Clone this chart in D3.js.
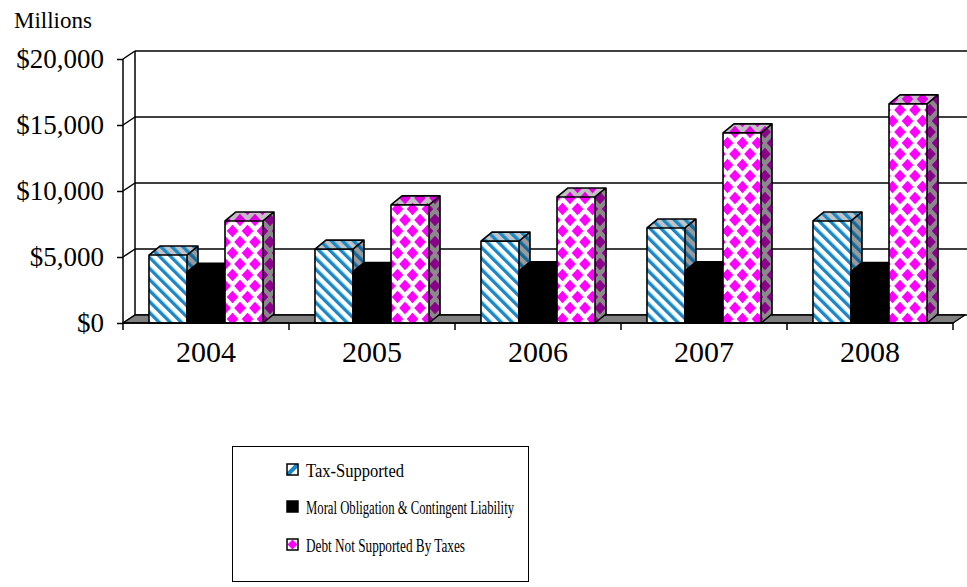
<!DOCTYPE html>
<html>
<head>
<meta charset="utf-8">
<script src="https://cdn.jsdelivr.net/npm/d3@7"></script>
<style>
  html, body { margin: 0; padding: 0; background: #fff; }
  svg text { font-family: "Liberation Serif", "Times New Roman", serif; fill: #000; }
</style>
</head>
<body>
<svg id="chart" width="967" height="587"></svg>
<script>
// ---- data (millions of dollars) ----
const years = ["2004", "2005", "2006", "2007", "2008"];
const seriesNames = ["Tax-Supported", "Moral Obligation & Contingent Liability", "Debt Not Supported By Taxes"];
const taxSupported = [5150, 5600, 6200, 7200, 7730];
const moralObligation = [3850, 3900, 3950, 3950, 3900];
const notSupportedByTaxes = [7730, 8950, 9550, 14400, 16600];
const yTicks = [0, 5000, 10000, 15000, 20000];

const seriesValues = [taxSupported, moralObligation, notSupportedByTaxes];

const svg = d3.select("#chart");

// ---- pattern fills ----
const defs = svg.append("defs");
function stripePattern(id, bg, stripe) {
  const p = defs.append("pattern").attr("id", id)
    .attr("patternUnits", "userSpaceOnUse").attr("width", 7.8).attr("height", 7.8)
    .attr("patternTransform", "rotate(-45)");
  p.append("rect").attr("width", 7.8).attr("height", 7.8).attr("fill", bg);
  p.append("rect").attr("x", 0).attr("width", 3.4).attr("height", 7.8).attr("fill", stripe);
}
function diamondPattern(id, bg, dot) {
  const w = 15, h = 22, rx = 5.8, ry = 6.2;
  const p = defs.append("pattern").attr("id", id)
    .attr("patternUnits", "userSpaceOnUse").attr("width", w).attr("height", h);
  p.append("rect").attr("width", w).attr("height", h).attr("fill", bg);
  const centers = [[w / 2, h / 2], [0, 0], [w, 0], [0, h], [w, h]];
  centers.forEach(([cx, cy]) => {
    p.append("path")
      .attr("d", `M${cx},${cy - ry}L${cx + rx},${cy}L${cx},${cy + ry}L${cx - rx},${cy}Z`)
      .attr("fill", dot);
  });
}
stripePattern("taxFront", "#ffffff", "#1a88c6");
stripePattern("taxTop", "#c4c4c4", "#1a88c6");
stripePattern("taxSide", "#9a9a9a", "#11689a");
diamondPattern("debtFront", "#ffffff", "#ff00ff");
diamondPattern("debtTop", "#c0c0c0", "#e000e0");
diamondPattern("debtSide", "#8a8a8a", "#8a008a");

const faceFills = [
  { front: "url(#taxFront)", top: "url(#taxTop)", side: "url(#taxSide)" },
  { front: "#000", top: "#000", side: "#000" },
  { front: "url(#debtFront)", top: "url(#debtTop)", side: "url(#debtSide)" }
];

// ---- scales ----
const plotLeft = 123, plotRight = 953, plotTop = 59, plotBottom = 323;
const wallDx = 12, wallDy = -8;   // depth of the back wall
const barDx = 11, barDy = -9;     // depth of each column

const x0 = d3.scaleBand().domain(years).range([plotLeft, plotRight]).paddingInner(0).paddingOuter(0);
const groupW = x0.bandwidth() * 0.687;
const x1 = d3.scaleBand().domain(d3.range(seriesNames.length)).range([0, groupW]).padding(0);
const y = d3.scaleLinear().domain([0, 20000]).range([plotBottom, plotTop]);

const g = svg.append("g");

// ---- back wall: gridlines & border ----
g.selectAll("line.grid").data(yTicks).join("line")
  .attr("class", "grid")
  .attr("x1", plotLeft + wallDx).attr("x2", 967)
  .attr("y1", d => y(d) + wallDy).attr("y2", d => y(d) + wallDy)
  .attr("stroke", "#000").attr("stroke-width", 1.5);
// side wall diagonals
g.selectAll("line.diag").data(yTicks).join("line")
  .attr("class", "diag")
  .attr("x1", plotLeft).attr("x2", plotLeft + wallDx)
  .attr("y1", d => y(d)).attr("y2", d => y(d) + wallDy)
  .attr("stroke", "#000").attr("stroke-width", 1.5);
// back wall left edge
g.append("line")
  .attr("x1", plotLeft + wallDx).attr("x2", plotLeft + wallDx)
  .attr("y1", y(20000) + wallDy).attr("y2", y(0) + wallDy)
  .attr("stroke", "#000").attr("stroke-width", 1.5);

// ---- floor ----
g.append("path")
  .attr("d", `M${plotLeft},${y(0)}L${plotRight},${y(0)}L${plotRight + wallDx},${y(0) + wallDy}L${plotLeft + wallDx},${y(0) + wallDy}Z`)
  .attr("fill", "#808080").attr("stroke", "#000").attr("stroke-width", 1.5).attr("stroke-linejoin", "round");

// ---- columns ----
const bars = [];
years.forEach((yr, i) => {
  seriesValues.forEach((vals, s) => {
    bars.push({ yr, s, v: vals[i] });
  });
});

const barG = g.append("g");
bars.forEach(b => {
  const xl = x0(b.yr) + (x0.bandwidth() - groupW) / 2 + x1(b.s);
  const xr = xl + x1.bandwidth();
  const yt = y(b.v), yb = y(0);
  const f = faceFills[b.s];
  const bg = barG.append("g");
  // side face
  bg.append("path")
    .attr("d", `M${xr},${yb}L${xr + barDx},${yb + barDy}L${xr + barDx},${yt + barDy}L${xr},${yt}Z`)
    .attr("fill", f.side);
  // top face
  bg.append("path")
    .attr("d", `M${xl},${yt}L${xl + barDx},${yt + barDy}L${xr + barDx},${yt + barDy}L${xr},${yt}Z`)
    .attr("fill", f.top);
  // front face
  bg.append("rect")
    .attr("x", xl).attr("y", yt).attr("width", xr - xl).attr("height", yb - yt)
    .attr("fill", f.front);
  // outline
  bg.append("path")
    .attr("d", `M${xl},${yb}L${xl},${yt}L${xl + barDx},${yt + barDy}L${xr + barDx},${yt + barDy}L${xr + barDx},${yb + barDy}L${xr},${yb}Z M${xl},${yt}L${xr},${yt}L${xr + barDx},${yt + barDy} M${xr},${yt}L${xr},${yb}`)
    .attr("fill", "none").attr("stroke", "#000").attr("stroke-width", 1.6).attr("stroke-linejoin", "round");
});

// ---- axes ----
const yAxis = d3.axisLeft(y).tickValues(yTicks).tickSize(6).tickPadding(13)
  .tickFormat(d => "$" + d3.format(",")(d));
const yAxisG = svg.append("g").attr("transform", `translate(${plotLeft},0)`).call(yAxis);
yAxisG.select(".domain").attr("stroke", "#000").attr("stroke-width", 1.5).attr("d", `M-0,${plotTop}V${plotBottom}`);
yAxisG.selectAll(".tick line").attr("stroke", "#000").attr("stroke-width", 1.5);
yAxisG.selectAll(".tick text").attr("font-size", 27).attr("font-family", "Liberation Serif, Times New Roman, serif");

const xAxis = d3.axisBottom(x0).tickSize(0).tickPadding(18);
const xAxisG = svg.append("g").attr("transform", `translate(0,${plotBottom})`).call(xAxis);
xAxisG.select(".domain").attr("stroke", "#000").attr("stroke-width", 1.5).attr("d", `M${plotLeft},0H${plotRight}`);
xAxisG.selectAll(".tick text").attr("font-size", 30).attr("font-family", "Liberation Serif, Times New Roman, serif");
// category separators
xAxisG.selectAll("line.sep").data(years.concat(["end"])).join("line")
  .attr("class", "sep")
  .attr("x1", (d, i) => plotLeft + i * x0.bandwidth()).attr("x2", (d, i) => plotLeft + i * x0.bandwidth())
  .attr("y1", 0).attr("y2", 7).attr("stroke", "#000").attr("stroke-width", 1.5);

svg.append("text").attr("x", 14).attr("y", 28).attr("font-size", 23).text("Millions");

// ---- legend ----
const legend = svg.append("g");
legend.append("rect").attr("x", 232.5).attr("y", 446.5).attr("width", 296).attr("height", 135)
  .attr("fill", "#fff").attr("stroke", "#000").attr("stroke-width", 1);
const legendFills = ["url(#legTax)", "#000", "url(#legDebt)"];
const lgTax = defs.append("linearGradient").attr("id", "legTax").attr("x1", 0).attr("y1", 0).attr("x2", 1).attr("y2", 1);
[[0, "#fff"], [0.35, "#fff"], [0.4, "#1a88c6"], [0.62, "#1a88c6"], [0.67, "#fff"], [1, "#fff"]]
  .forEach(([o, c]) => lgTax.append("stop").attr("offset", o).attr("stop-color", c));
const lgDebt = defs.append("pattern").attr("id", "legDebt").attr("patternUnits", "objectBoundingBox").attr("width", 1).attr("height", 1);
lgDebt.append("rect").attr("width", 11).attr("height", 11).attr("fill", "#fff");
lgDebt.append("path").attr("d", "M5.5,0.5L10.5,5.5L5.5,10.5L0.5,5.5Z").attr("fill", "#ff00ff");
const rowY = [470, 507, 545];
const legendTextWidth = [98, 208, 159];
seriesNames.forEach((name, i) => {
  legend.append("rect").attr("x", 287).attr("y", rowY[i] - 6).attr("width", 11).attr("height", 11)
    .attr("fill", legendFills[i]).attr("stroke", "#000").attr("stroke-width", 1.5);
  legend.append("text").attr("x", 306).attr("y", rowY[i]).attr("dy", "0.35em")
    .attr("font-size", 19)
    .attr("textLength", legendTextWidth[i]).attr("lengthAdjust", "spacingAndGlyphs")
    .text(name);
});
</script>
</body>
</html>
